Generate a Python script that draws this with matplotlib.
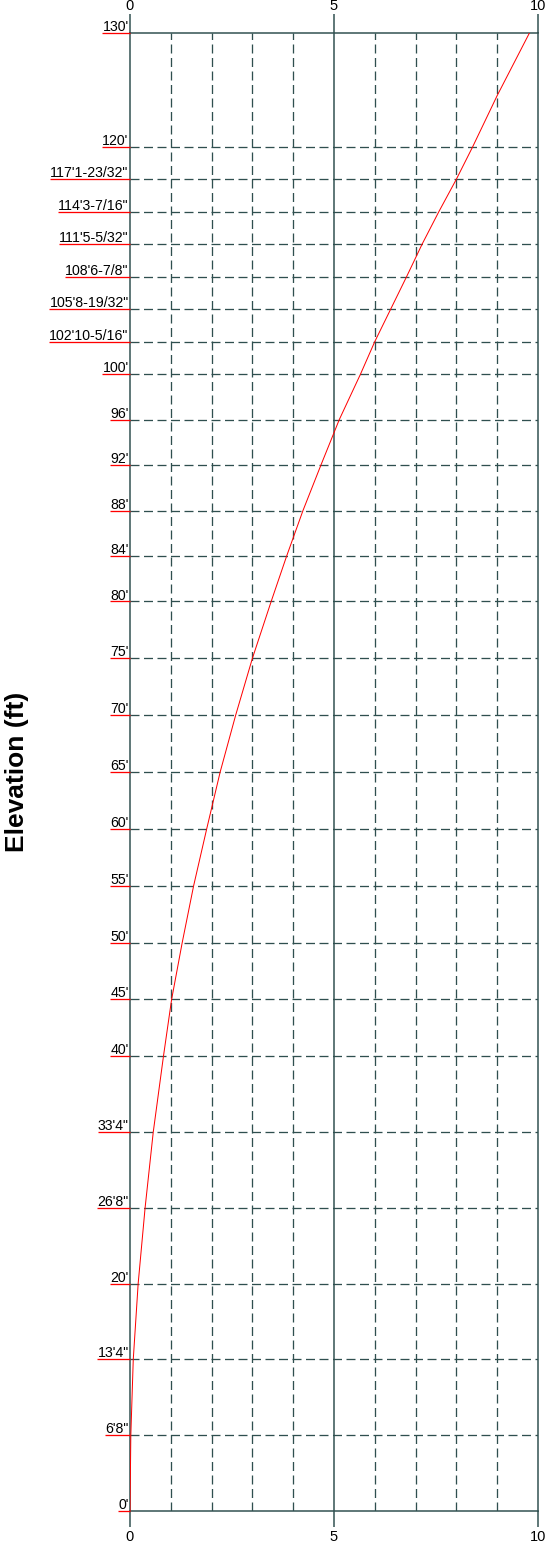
import matplotlib
matplotlib.use("Agg")
import matplotlib.pyplot as plt

plt.rcParams['font.family'] = ['Liberation Sans', 'DejaVu Sans']
plt.rcParams['lines.scale_dashes'] = False

# ---- data ----
label_elev = [130, 120, 117.143229, 114.286458, 111.429688, 108.572917,
              105.716146, 102.859375, 100, 96, 92, 88, 84, 80, 75, 70, 65,
              60, 55, 50, 45, 40, 33.333333, 26.666667, 20, 13.333333,
              6.666667, 0]
label_text = ["130'", "120'", "117'1-23/32\"", "114'3-7/16\"", "111'5-5/32\"",
              "108'6-7/8\"", "105'8-19/32\"", "102'10-5/16\"", "100'", "96'",
              "92'", "88'", "84'", "80'", "75'", "70'", "65'", "60'", "55'",
              "50'", "45'", "40'", "33'4\"", "26'8\"", "20'", "13'4\"", "6'8\"",
              "0'"]

curve_elev = [0, 6.6667, 13.3333, 20, 26.6667, 33.3333, 40, 45, 50, 55, 60,
              65, 70, 75, 80, 84, 88, 92, 96, 100, 102.8594, 105.7161,
              108.5729, 111.4297, 114.2865, 117.1432, 120, 124.5, 130]
curve_x = [0.0, 0.02, 0.08, 0.20, 0.37, 0.57, 0.82, 1.02, 1.28, 1.56, 1.88,
           2.21, 2.59, 3.00, 3.46, 3.84, 4.24, 4.68, 5.13, 5.65, 6.00, 6.39,
           6.78, 7.16, 7.57, 8.00, 8.40, 9.00, 9.79]

x_ticks = [0, 5, 10]
x_dashed = [1, 2, 3, 4, 6, 7, 8, 9]
x_solid = [5]

GRID = '#2F4F4F'
PX = 0.72  # points per pixel at 100 dpi

fig = plt.figure(figsize=(5.47, 15.45), dpi=100)
W, H = 547, 1545
ax = fig.add_axes([130 / W, 1 - 1511 / H, 408 / W, 1478 / H])
ax.set_xlim(0, 10)
ax.set_ylim(0, 130)

for s in ax.spines.values():
    s.set_color(GRID)
    s.set_linewidth(1.5 * PX)

# vertical grid lines
for xv in x_dashed:
    ax.axvline(xv, color=GRID, lw=1.3 * PX, dashes=(9 * PX, 4.5 * PX), zorder=1)
for xv in x_solid:
    ax.axvline(xv, color=GRID, lw=1.5 * PX, zorder=1)

# horizontal grid lines
for e in label_elev:
    if 0 < e < 130:
        ax.axhline(e, color=GRID, lw=1.3 * PX, dashes=(9 * PX, 4.5 * PX), zorder=1)

# curve
ax.plot(curve_x, curve_elev, color='red', lw=1.0 * PX, zorder=3)

# ticks
ax.set_yticks([])
ax.set_xticks(x_ticks)
ax.set_xticklabels([str(t) for t in x_ticks])
ax.tick_params(axis='x', direction='out', length=16 * PX, width=1.5 * PX,
               color=GRID, pad=2, labelsize=10.5)
sec = ax.secondary_xaxis('top')
sec.set_xticks(x_ticks)
sec.set_xticklabels([str(t) for t in x_ticks])
sec.tick_params(axis='x', direction='out', length=19 * PX, width=1.5 * PX,
                color=GRID, pad=1, labelsize=10.5)
sec.spines['top'].set_visible(False)

# elevation labels
texts = []
for e, t in zip(label_elev, label_text):
    tx = ax.annotate(t, xy=(0, e), xytext=(-1.0, 1.4), textcoords='offset points',
                     ha='right', va='baseline', fontsize=10.2, color='black',
                     annotation_clip=False)
    texts.append((e, tx))

fig.text(17 / W, 1 - 772 / H, 'Elevation (ft)', rotation=90, ha='center',
         va='center', fontsize=19, fontweight='bold')

fig.canvas.draw()
renderer = fig.canvas.get_renderer()
inv = ax.transData.inverted()
for e, tx in texts:
    bb = tx.get_window_extent(renderer)
    x_left = inv.transform((bb.x0, 0))[0]
    ax.plot([x_left, 0], [e, e], color='red', lw=1.3 * PX, clip_on=False,
            solid_capstyle='butt', zorder=4)

fig.savefig('out.png', dpi=100)
